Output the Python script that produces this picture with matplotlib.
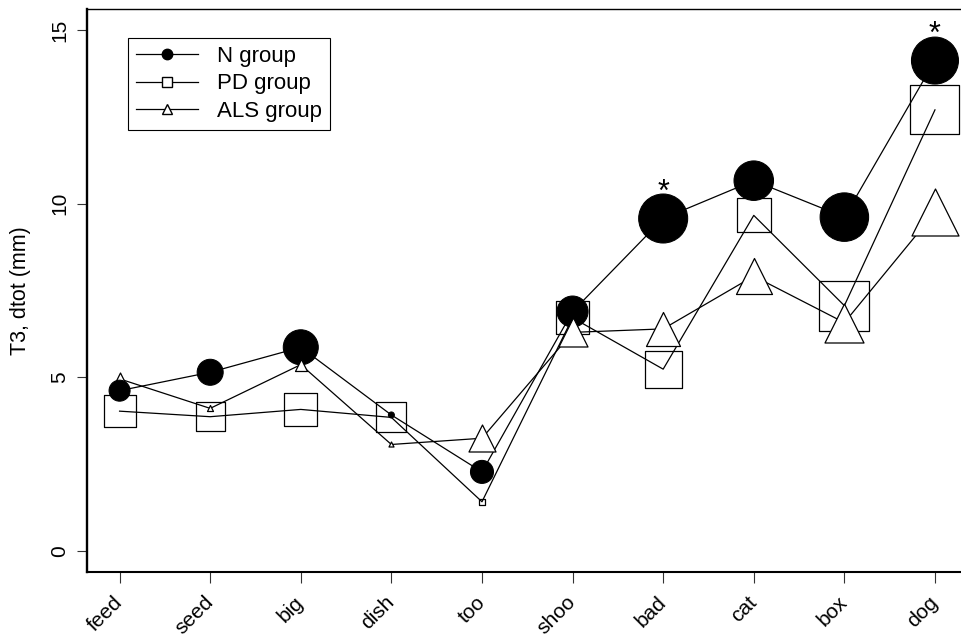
import matplotlib
matplotlib.use('Agg')
import matplotlib.pyplot as plt
from matplotlib.lines import Line2D

plt.rcParams['font.family'] = ['Liberation Sans', 'DejaVu Sans']

# ---- data ----
words = ['feed', 'seed', 'big', 'dish', 'too', 'shoo', 'bad', 'cat', 'box', 'dog']
n_group = [4.61, 5.14, 5.86, 3.91, 2.27, 6.89, 9.57, 10.66, 9.61, 14.12]
pd_group = [4.02, 3.86, 4.07, 3.84, 1.41, 6.71, 5.23, 9.66, 7.06, 12.70]
als_group = [4.95, 4.10, 5.36, 3.06, 3.24, 6.29, 6.39, 7.91, 6.57, 9.75]
# symbol sizes (visual spread encoding, pixel diameters as drawn)
n_symbol = [22, 27, 36, 7, 24, 32, 50, 40.5, 49.5, 48]
pd_symbol = [33, 30, 34, 31, 7, 34, 38, 35, 51, 50]
als_symbol = [14, 7, 13, 6, 28, 30, 35, 37, 40, 48]
significant = ['bad', 'dog']
yticks = [0, 5, 10, 15]
series_labels = ['N group', 'PD group', 'ALS group']

DPI = 100
def px2pt(v):
    return (v - 1) * 72.0 / DPI

fig = plt.figure(figsize=(9.62, 6.39), dpi=DPI)
ax = fig.add_axes([0.0904, 0.1056, 0.9154, 0.880])
x = list(range(len(words)))
LW = 0.9

# lines
ax.plot(x, n_group, color='black', lw=LW, zorder=2)
ax.plot(x, pd_group, color='black', lw=LW, zorder=2)
ax.plot(x, als_group, color='black', lw=LW, zorder=2)

# N: filled circles
ax.scatter(x, n_group, s=[px2pt(v) ** 2 for v in n_symbol], marker='o',
           facecolors='black', edgecolors='black', linewidths=0.75, zorder=3)
# PD: open squares
ax.scatter(x, pd_group, s=[px2pt(v) ** 2 for v in pd_symbol], marker='s',
           facecolors='none', edgecolors='black', linewidths=0.9, zorder=3)
# ALS: white triangles
for i, w in enumerate(words):
    z = 2.5 if w == 'feed' else 4
    ax.scatter([i], [als_group[i]], s=[px2pt(als_symbol[i]) ** 2], marker='^',
               facecolors='white', edgecolors='black', linewidths=0.9, zorder=z)

# significance stars
for w in significant:
    i = words.index(w)
    ax.annotate('*', xy=(i, n_group[i]), xytext=(0, 13), textcoords='offset points',
                ha='center', va='baseline', fontsize=22, zorder=5)

ax.set_xlim(-0.36, 9.36)
ax.set_ylim(-0.6, 15.6)
ax.set_xticks(x)
ax.set_xticklabels(words, rotation=45, ha='right', va='center',
                   rotation_mode='anchor', fontsize=15)
ax.set_yticks(yticks)
ax.set_yticklabels([str(v) for v in yticks], fontsize=15, rotation=90, va='center')

ax.tick_params(axis='x', length=8, width=0.8, color='#333333', pad=12)
ax.tick_params(axis='y', length=7.5, width=0.8, color='#333333', pad=5.5)

ax.spines['right'].set_visible(False)
ax.spines['left'].set_linewidth(1.7)
ax.spines['bottom'].set_linewidth(1.5)
ax.spines['top'].set_linewidth(1.0)

ax.set_ylabel('T3, dtot (mm)', fontsize=15.5)
ax.yaxis.set_label_coords(-0.0636, 0.5)

handles = [
    Line2D([], [], color='black', lw=LW, marker='o', markersize=7.5,
           markerfacecolor='black', markeredgecolor='black'),
    Line2D([], [], color='black', lw=LW, marker='s', markersize=7,
           markerfacecolor='white', markeredgecolor='black'),
    Line2D([], [], color='black', lw=LW, marker='^', markersize=7.5,
           markerfacecolor='white', markeredgecolor='black'),
]
leg = ax.legend(handles, series_labels, loc='upper left',
                bbox_to_anchor=((128.3 - 87) / 880.6, (571.5 - 38.3) / 561.8),
                fontsize=16, frameon=True, fancybox=False, shadow=False,
                edgecolor='black', framealpha=1, handlelength=2.75,
                handletextpad=0.87, labelspacing=0.29, borderpad=0.37,
                borderaxespad=0)
leg.get_frame().set_linewidth(0.8)

fig.savefig('out.png', dpi=DPI)
